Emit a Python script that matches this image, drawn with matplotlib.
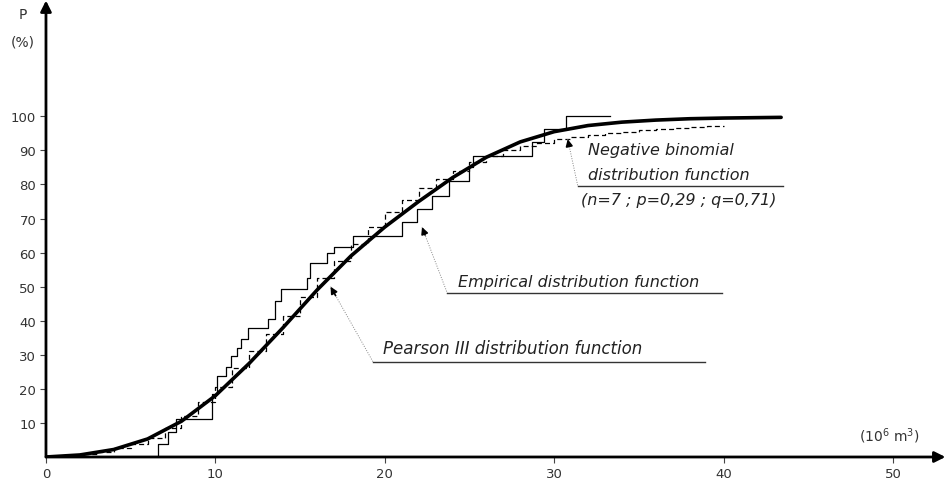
import numpy as np
import matplotlib.pyplot as plt

# Pearson III distribution function
pearson_x = [0, 2, 4, 6, 8, 10, 12, 14, 16, 18, 20, 22, 24, 26, 28, 30, 32, 34, 36, 38, 40, 43.4]
pearson_p = [0, 0.6, 2.2, 5.3, 10.5, 18, 27.5, 38, 49, 59, 67.5, 75, 82, 88, 92.5, 95.5,
             97.3, 98.3, 98.9, 99.3, 99.5, 99.7]

# empirical distribution function: jump positions and levels after each jump
emp_x = [6.6, 7.2, 7.7, 9.8, 10.1, 10.6, 10.9, 11.3, 11.5, 11.9, 13.1, 13.5, 13.9, 15.4,
         15.6, 16.6, 17.0, 18.1, 21.0, 21.9, 22.8, 23.8, 25.0, 25.2, 28.7, 29.4, 30.7]
emp_p = [3.8, 7.3, 11.1, 18.5, 23.8, 26.4, 29.6, 32, 34.6, 38, 40.5, 45.7, 49.3, 52.5,
         57, 60, 61.5, 64.8, 68.9, 72.7, 76.5, 80.9, 85, 88.3, 92.4, 96.2, 100]
emp_end = 33.3

# negative binomial distribution function (n=7; p=0,29; q=0,71)
nb_x = [0, 1, 2, 3, 4, 5, 6, 7, 8, 9, 10, 11, 12, 13, 14, 15, 16, 17, 18, 19, 20,
        21, 22, 23, 24, 25, 26, 27, 28, 29, 30, 31, 32, 33, 34, 35, 36, 37, 38, 39]
nb_p = [0, 0.3, 0.8, 1.6, 2.6, 3.8, 5.5, 8.5, 12, 16, 20.5, 26, 31, 36, 41.5, 47, 52.5,
        57.5, 62.5, 67.5, 72, 75.5, 79, 81.5, 84, 86.5, 88.5, 90, 91.2, 92.3, 93.3, 94.0,
        94.6, 95.1, 95.5, 95.9, 96.2, 96.5, 96.8, 97.1]
nb_end = 40

x_ticks = [0, 10, 20, 30, 40, 50]
y_ticks = [10, 20, 30, 40, 50, 60, 70, 80, 90, 100]

fig = plt.figure(figsize=(9.48, 4.89), dpi=100)
ax = fig.add_axes([0.0485, 0.0634, 0.947, 0.93])
ax.set_xlim(0, 53)
ax.set_ylim(0, 133.5)
for s in ax.spines.values():
    s.set_visible(False)

# axes with arrow heads
ax.annotate("", xy=(53.1, 0), xytext=(0, 0), annotation_clip=False,
            arrowprops=dict(arrowstyle="-|>", lw=2, color="k", mutation_scale=16,
                            shrinkA=0, shrinkB=0))
ax.annotate("", xy=(0, 134), xytext=(0, 0), annotation_clip=False,
            arrowprops=dict(arrowstyle="-|>", lw=2, color="k", mutation_scale=16,
                            shrinkA=0, shrinkB=0))

ax.set_xticks(x_ticks)
ax.set_yticks(y_ticks)
ax.tick_params(axis="both", direction="out", length=4, width=0.8, color="#444",
               labelsize=9.5, labelcolor="#333", pad=3)

# curves
ax.plot(pearson_x, pearson_p, color="k", lw=2.6, solid_capstyle="round")
ax.step([emp_x[0]] + emp_x + [emp_end], [0] + emp_p + [emp_p[-1]], where="post",
        color="k", lw=0.9)
ax.step(nb_x + [nb_end], nb_p + [nb_p[-1]], where="post", color="k", lw=0.9,
        dashes=(4, 2.5))

# labels
ax.text(-1.35, 130, "P", ha="center", va="center", fontsize=10, color="#333", clip_on=False)
ax.text(-1.35, 122, "(%)", ha="center", va="center", fontsize=10, color="#333", clip_on=False)
ax.text(49.8, 6.5, r"(10$^6$ m$^3$)", ha="center", va="center", fontsize=10, color="#333")

lead = dict(color="#888", lw=0.7, ls=(0, (1, 1.5)))
txt = dict(style="italic", color="#222")


def label(tip, corner, end, lines, ty, size=11.5):
    # dotted leader from the arrow tip to the start of the underline
    ax.plot([tip[0], corner[0]], [tip[1], corner[1]], **lead)
    ax.plot([corner[0], end], [corner[1], corner[1]], color="#333", lw=1.0)
    dx = corner[0] - tip[0]
    dy = corner[1] - tip[1]
    ax.annotate("", xy=tip, xytext=(tip[0] + dx * 0.12, tip[1] + dy * 0.12),
                arrowprops=dict(arrowstyle="-|>", color="k", lw=1.2, mutation_scale=10,
                                shrinkA=0, shrinkB=0))
    for i, t in enumerate(lines):
        ax.text(corner[0] + 0.6, ty[i], t, ha="left", va="center", fontsize=size, **txt)


label((16.8, 50), (19.3, 28), 38.9, ["Pearson III distribution function"], [32], size=12)
label((22.2, 67.5), (23.7, 48), 39.9, ["Empirical distribution function"], [51.6])
label((30.8, 93.3), (31.4, 79.5), 43.5,
      ["Negative binomial", "distribution function"], [90.2, 83])
ax.text(31.6, 75.5, "(n=7 ; p=0,29 ; q=0,71)", ha="left", va="center", fontsize=11.5, **txt)

fig.savefig("out.png", dpi=100)
